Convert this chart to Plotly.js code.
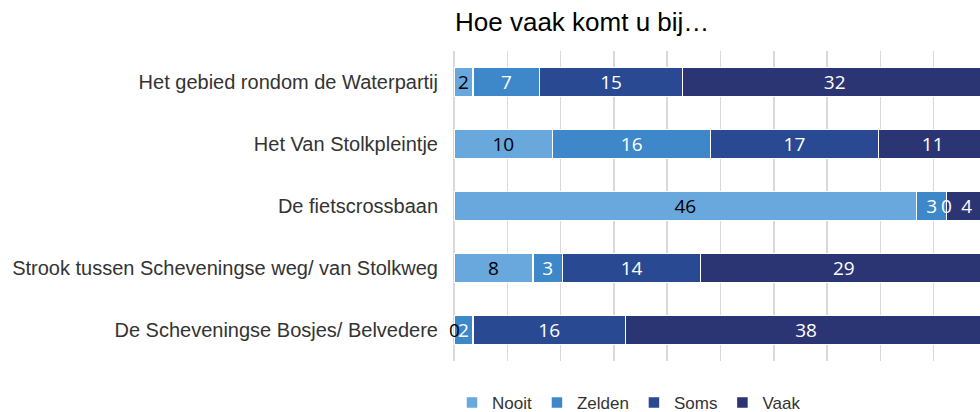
<!DOCTYPE html>
<html>
<head>
<meta charset="utf-8">
<script src="https://cdn.plot.ly/plotly-3.0.1.min.js"></script>
<style>
  html, body { margin: 0; padding: 0; background: white; }
  #chart { width: 980px; height: 412px; }
</style>
</head>
<body>
<div id="chart"></div>
<script>
// categories, top to bottom
var locaties = [
    'Het gebied rondom de Waterpartij',
    'Het Van Stolkpleintje',
    'De fietscrossbaan',
    'Strook tussen Scheveningse weg/ van Stolkweg',
    'De Scheveningse Bosjes/ Belvedere'
];

// number of answers per frequency
var nooit = [2, 10, 46, 8, 0];
var zelden = [7, 16, 3, 3, 2];
var soms = [15, 17, 0, 14, 16];
var vaak = [32, 11, 4, 29, 38];

var reeksen = [
    {name: 'Nooit', values: nooit, color: '#68A8DC', label: 'black'},
    {name: 'Zelden', values: zelden, color: '#3E88CA', label: 'white'},
    {name: 'Soms', values: soms, color: '#294A92', label: 'white'},
    {name: 'Vaak', values: vaak, color: '#2B3574', label: 'white'}
];

var labelFont = 'Open Sans, Noto Sans, sans-serif';
var textFont = 'Liberation Sans, Arial, sans-serif';

var data = reeksen.map(function (r) {
    return {
        type: 'bar',
        orientation: 'h',
        name: r.name,
        x: r.values,
        y: locaties,
        text: r.values.map(String),
        texttemplate: '%{text}',
        textposition: 'inside',
        insidetextanchor: 'middle',
        textangle: 0,
        constraintext: 'none',
        insidetextfont: {family: labelFont, size: 19, color: r.label},
        marker: {color: r.color, line: {color: 'white', width: 1.5}},
        hoverinfo: 'skip'
    };
});

// zero values get no inside text, put them on the segment edge
var annotations = [];
for (var i = 0; i < locaties.length; i++) {
    var totaal = 0;
    reeksen.forEach(function (r) { totaal += r.values[i]; });
    var cum = 0;
    reeksen.forEach(function (r) {
        var v = r.values[i];
        if (v === 0) {
            annotations.push({
                x: cum / totaal * 100, y: locaties[i], xref: 'x', yref: 'y',
                text: '0', showarrow: false,
                font: {family: labelFont, size: 19, color: r.label}
            });
        }
        cum += v;
    });
}

var layout = {
    width: 980,
    height: 412,
    margin: {l: 454, r: 0, t: 51, b: 51, pad: 0, autoexpand: false},
    paper_bgcolor: 'white',
    plot_bgcolor: 'white',
    barmode: 'stack',
    barnorm: 'percent',
    bargap: 0.54,
    title: {
        text: 'Hoe vaak komt u bij…',
        font: {family: textFont, size: 26, color: '#000'},
        xref: 'container', x: 455 / 980, xanchor: 'left',
        yref: 'container', y: 1 - 22 / 412, yanchor: 'middle'
    },
    xaxis: {
        range: [0, 98.7],
        dtick: 10,
        showticklabels: false,
        showgrid: true,
        gridcolor: '#D9D9D9',
        gridwidth: 1.5,
        zeroline: true,
        zerolinecolor: '#D9D9D9',
        zerolinewidth: 1.5,
        fixedrange: true
    },
    yaxis: {
        autorange: 'reversed',
        showgrid: false,
        zeroline: false,
        ticks: 'outside',
        ticklen: 11,
        tickcolor: 'rgba(0,0,0,0)',
        tickfont: {family: textFont, size: 20, color: '#333'},
        fixedrange: true
    },
    showlegend: true,
    legend: {
        orientation: 'h',
        xref: 'paper', x: -2 / 526, xanchor: 'left',
        yref: 'paper', y: -42 / 310, yanchor: 'middle',
        font: {family: textFont, size: 17, color: '#333'},
        itemwidth: 30,
        traceorder: 'normal'
    },
    annotations: annotations
};

Plotly.newPlot('chart', data, layout, {displayModeBar: false, staticPlot: true});
</script>
</body>
</html>
